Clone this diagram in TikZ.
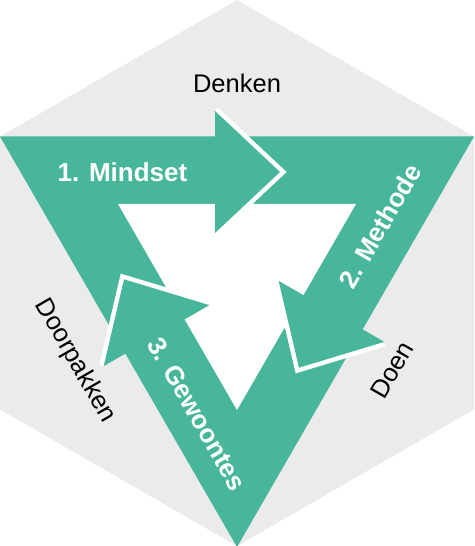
\documentclass[tikz,border=0pt]{standalone}
\usepackage{fontspec}
\setmainfont{Liberation Sans}
\definecolor{hexgray}{HTML}{EBEBEB}
\definecolor{tealgreen}{HTML}{47B69B}
\begin{document}
\begin{tikzpicture}[x=1pt,y=1pt,
  lbl/.style={font=\fontsize{25.5}{30}\selectfont, text=black, inner sep=0pt},
  albl/.style={font=\fontsize{26}{30}\selectfont\bfseries, text=white, inner sep=0pt},
  headfill/.style={fill=tealgreen},
  headedge/.style={draw=white, line width=9pt, line join=miter}]
\useasboundingbox (0,0) rectangle (474,546);
% hexagon background
\fill[hexgray] (237,546) -- (474,409.5) -- (474,136.5) -- (237,0) -- (0,136.5) -- (0,409.5) -- cycle;
% teal triangle band
\fill[tealgreen] (0,409.5) -- (474,409.5) -- (237,-1) -- cycle;
\fill[white] (118,342) -- (356,342) -- (237,136) -- cycle;
% arrow heads
\foreach \r/\s in {0/0,-120/8,120/8}{
  \begin{scope}[shift={(237,273)},rotate=\r,xshift=\s pt]
    \begin{scope}
      \clip (-22,0) rectangle (120,260);
      \draw[headedge] (-22,162) -- (43,101) -- (-22,40);
    \end{scope}
    \fill[headfill] (-22,162) -- (43,101) -- (-22,40) -- cycle;
  \end{scope}
}
% labels
\node[albl] (mindset) at (122.5,373.5) {1. Mindset};
\node[albl,rotate=60] (methode) at (380,320) {2. Methode};
\node[albl,rotate=-60] (gewoontes) at (197,132) {3. Gewoontes};
\node[lbl] (denken) at (237,463) {Denken};
\node[lbl,rotate=-60] (doorpakken) at (75,185) {Doorpakken};
\node[lbl,rotate=60] (doen) at (392,176) {Doen};
\end{tikzpicture}
\end{document}
